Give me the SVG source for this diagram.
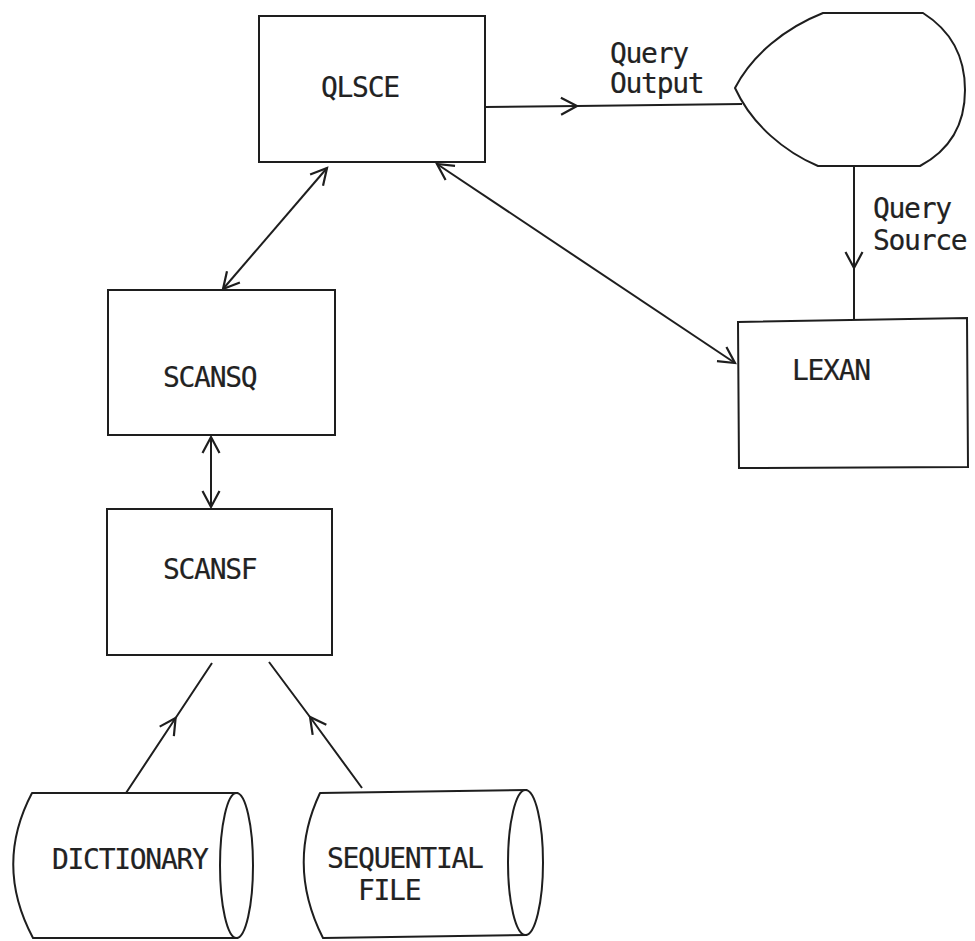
<svg xmlns="http://www.w3.org/2000/svg" width="975" height="941" viewBox="0 0 975 941">
  <style>
    .box { fill: #fff; stroke: #1e1e1e; stroke-width: 2; }
    .shape { fill: #fff; stroke: #1e1e1e; stroke-width: 2; stroke-linejoin: round; }
    .edge { fill: none; stroke: #1e1e1e; stroke-width: 2; }
    .lbl { font-family: "DejaVu Sans Mono", "Liberation Mono", monospace; font-size: 28px; letter-spacing: -1.3px; fill: #222; stroke: #222; stroke-width: 0.2; }
  </style>
  <defs>
    <marker id="chev" markerUnits="userSpaceOnUse" viewBox="-18 -11 20 22" markerWidth="20" markerHeight="22" refX="0" refY="0" orient="auto-start-reverse" overflow="visible">
      <path d="M-16,-8.5 L0,0 L-16,8.5" fill="none" stroke="#1e1e1e" stroke-width="2.2" stroke-linejoin="miter"/>
    </marker>
  </defs>
  <rect width="975" height="941" fill="#fff"/>

  <!-- connectors -->
  <g id="connectors">
    <!-- QLSCE to terminal display -->
    <polyline class="edge" points="485,107 577,106 742,104" marker-mid="url(#chev)"/>
    <!-- display down to LEXAN -->
    <polyline class="edge" points="854,166 854,268 854,320" marker-mid="url(#chev)"/>
    <!-- QLSCE <-> SCANSQ -->
    <line class="edge" x1="223" y1="289" x2="327" y2="168" marker-start="url(#chev)" marker-end="url(#chev)"/>
    <!-- QLSCE <-> LEXAN -->
    <line class="edge" x1="437" y1="164" x2="735" y2="363" marker-start="url(#chev)" marker-end="url(#chev)"/>
    <!-- SCANSQ <-> SCANSF -->
    <line class="edge" x1="211" y1="437" x2="211" y2="507" marker-start="url(#chev)" marker-end="url(#chev)"/>
    <!-- files feeding SCANSF -->
    <polyline class="edge" points="126,793 175.6,718 212,663" marker-mid="url(#chev)"/>
    <polyline class="edge" points="362,788 310,717 269,662" marker-mid="url(#chev)"/>
  </g>

  <g id="qlsce">
    <rect class="box" x="259" y="16" width="226" height="146"/>
    <text class="lbl" x="321" y="97">QLSCE</text>
  </g>

  <g id="display">
    <path class="shape" d="M823,13 L923,13 C950,30 965,55 965,90 C965,125 950,150 920,166 L818,166 C785,152 752,125 735,88 C752,55 785,28 823,13 Z"/>
  </g>

  <g id="query-output-label">
    <text class="lbl" x="610" y="63">Query</text>
    <text class="lbl" x="610" y="93">Output</text>
  </g>

  <g id="query-source-label">
    <text class="lbl" x="873" y="218">Query</text>
    <text class="lbl" x="873" y="250">Source</text>
  </g>

  <g id="lexan">
    <path class="box" d="M738,322 L967,318 L968,467 L739,468 Z"/>
    <text class="lbl" x="792" y="380">LEXAN</text>
  </g>

  <g id="scansq">
    <rect class="box" x="108" y="290" width="227" height="145"/>
    <text class="lbl" x="163" y="387">SCANSQ</text>
  </g>

  <g id="scansf">
    <rect class="box" x="107" y="509" width="225" height="146"/>
    <text class="lbl" x="163" y="579">SCANSF</text>
  </g>

  <g id="dictionary">
    <path class="shape" d="M238,793 L32,793 Q-6,865 33,938 L238,938"/>
    <ellipse class="shape" cx="236.5" cy="865.5" rx="16.5" ry="72.5"/>
    <text class="lbl" x="52" y="869">DICTIONARY</text>
  </g>

  <g id="sequential-file">
    <path class="shape" d="M527,790 L320,793 Q286,865 323,938 L527,935"/>
    <ellipse class="shape" cx="525.5" cy="862.5" rx="17.5" ry="72.5"/>
    <text class="lbl" x="327" y="868">SEQUENTIAL</text>
    <text class="lbl" x="358" y="900">FILE</text>
  </g>
</svg>
